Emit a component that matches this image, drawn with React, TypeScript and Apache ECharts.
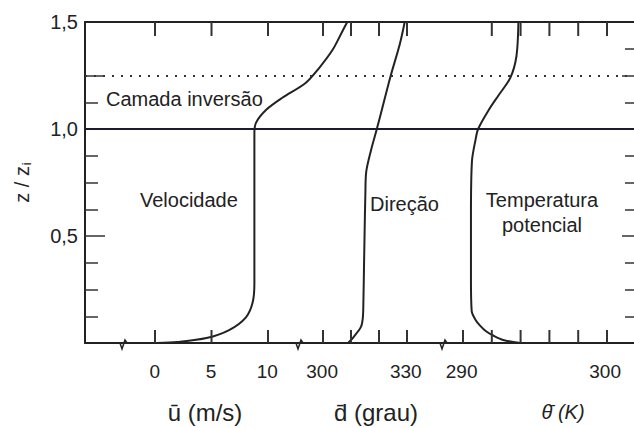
import React, { useEffect, useRef } from "react";
import * as echarts from "echarts";

// ---- data ----
const velU = [0.2, 2.0, 4.6, 6.6, 8.1, 8.7, 8.85, 8.85, 8.85, 9.0, 9.9, 11.3, 13.4, 14.6, 15.8, 16.6, 17.1];
const velZ = [0, 0.005, 0.023, 0.06, 0.12, 0.19, 0.28, 0.6, 0.98, 1.03, 1.09, 1.145, 1.215, 1.285, 1.37, 1.45, 1.5];

const dirD = [309.3, 311.4, 313.9, 314.6, 314.8, 315.0, 315.2, 315.5, 315.8, 317.5, 319.6, 322.0, 324.6, 327.9, 329.6];
const dirZ = [0, 0.03, 0.075, 0.12, 0.2, 0.35, 0.5, 0.7, 0.8, 0.9, 1.0, 1.12, 1.25, 1.4, 1.5];

const tempT = [294.1, 292.9, 292.2, 291.7, 291.3, 290.95, 290.7, 290.65, 290.65, 290.72, 290.97, 291.15, 291.9, 292.6, 293.4, 293.82, 293.96];
const tempZ = [0, 0.014, 0.035, 0.055, 0.08, 0.11, 0.15, 0.3, 0.6, 0.85, 0.95, 1.0, 1.09, 1.16, 1.24, 1.34, 1.5];

const velTicks = [0, 5, 10];
const velLabels = [0, 5, 10];
const dirTicks = [300, 310, 320, 330];
const dirLabels = [300, 330];
const tempTicks = [290, 292, 294, 296, 298, 300];
const tempTopTicks = [292, 294, 296, 298, 300];
const tempLabels = [290, 300];

const zMin = 0;
const zMax = 1.5;
const zLabels = [0.5, 1.0, 1.5];
const zTicksLeft = [0.125, 0.25, 0.375, 0.625, 0.75, 0.875, 1.125];
const zTicksLeftLong = [0.5, 1.25];
const zTicksRight = [0.125, 0.25, 0.375, 0.625, 0.75, 0.875, 1.125, 1.375];
const zTicksRightLong = [0.5, 1.25];

const inversionTop = 1.25;
const inversionBase = 1.0;

// ---- layout ----
const W = 634;
const H = 428;
const gL = 85;
const gR = 636;
const gT = 22;
const gB = 343;

type Scale = { v0: number; px0: number; ppu: number };
const velScale: Scale = { v0: 0, px0: 155, ppu: 11.3 };
const dirScale: Scale = { v0: 300, px0: 323, ppu: 2.8 };
const tempScale: Scale = { v0: 290, px0: 463, ppu: 14.4 };

function range(s: Scale) {
  return { min: s.v0 - (s.px0 - gL) / s.ppu, max: s.v0 + (gR - s.px0) / s.ppu };
}
function px(s: Scale, v: number) {
  return s.px0 + (v - s.v0) * s.ppu;
}
const velRange = range(velScale);
const dirRange = range(dirScale);
const tempRange = range(tempScale);

const INK = "#222";
const SANS = "'Liberation Sans', Arial, Helvetica, sans-serif";

const breaks = [122, 298, 442];

export default function App() {
  const ref = useRef<HTMLDivElement>(null);

  useEffect(() => {
    document.body.style.margin = "0";
    const chart = echarts.init(ref.current!, undefined, { renderer: "svg" });

    const tickStyle = { color: "#333", width: 1.5 };
    const xBase = (r: { min: number; max: number }, pos: string) => ({
      type: "value",
      gridIndex: 0,
      position: pos,
      offset: 0,
      min: r.min,
      max: r.max,
      splitLine: { show: false },
      axisLine: { show: false, onZero: false },
      axisTick: { show: false },
      axisLabel: { show: false },
    });

    const labelStyle = {
      show: true,
      margin: 19,
      fontSize: 19,
      fontFamily: SANS,
      color: INK,
    };

    const xAxes = [
      {
        ...xBase(velRange, "bottom"),
        axisLine: { show: true, onZero: false, lineStyle: { color: INK, width: 2 } },
        axisLabel: { ...labelStyle, customValues: velLabels },
      },
      {
        ...xBase(dirRange, "bottom"),
        axisLabel: { ...labelStyle, customValues: dirLabels },
      },
      {
        ...xBase(tempRange, "bottom"),
        axisLabel: { ...labelStyle, customValues: tempLabels },
      },
      {
        ...xBase(velRange, "top"),
        axisLine: { show: true, onZero: false, lineStyle: { color: INK, width: 2 } },
      },
    ];

    const yBase = (pos: string) => ({
      type: "value",
      gridIndex: 0,
      position: pos,
      offset: 0,
      min: zMin,
      max: zMax,
      splitLine: { show: false },
      axisLine: { show: false, onZero: false },
      axisLabel: { show: false },
    });

    const yAxes = [
      {
        ...yBase("left"),
        axisLine: { show: true, onZero: false, lineStyle: { color: INK, width: 2 } },
        axisTick: { show: true, inside: true, length: 13, lineStyle: tickStyle, customValues: zTicksLeft },
        axisLabel: {
          show: true,
          margin: 7,
          fontSize: 20,
          fontFamily: SANS,
          color: INK,
          customValues: zLabels,
          formatter: (v: number) => v.toFixed(1).replace(".", ","),
        },
        name: "z / z{s|i}",
        nameLocation: "middle",
        nameRotate: 90,
        nameGap: 52,
        nameTextStyle: {
          fontSize: 20,
          fontFamily: SANS,
          color: INK,
          rich: {
            s: { fontSize: 13, fontFamily: SANS, color: INK, padding: [9, 0, 0, 1] },
          },
        },
      },
      {
        ...yBase("left"),
        axisTick: { show: true, inside: true, length: 20, lineStyle: tickStyle, customValues: zTicksLeftLong },
      },
      {
        ...yBase("right"),
        axisTick: { show: true, inside: true, length: 9, lineStyle: tickStyle, customValues: zTicksRight },
      },
      {
        ...yBase("right"),
        axisTick: { show: true, inside: true, length: 12, lineStyle: tickStyle, customValues: zTicksRightLong },
      },
    ];

    const curve = (xs: number[], zs: number[], xi: number, extra: any = null) => ({
      type: "line",
      xAxisIndex: xi,
      yAxisIndex: 0,
      data: xs.map((x, i) => [x, zs[i]]),
      symbol: "none",
      smooth: 0.3,
      lineStyle: { color: INK, width: 2 },
      z: 3,
      ...(extra ? { markLine: extra } : {}),
    });

    const refLines = {
      silent: true,
      symbol: "none",
      label: { show: false },
      data: [
        { yAxis: inversionBase, lineStyle: { type: "solid", width: 2, color: "#1c1c30" } },
        { yAxis: inversionTop, lineStyle: { type: [2, 7], width: 2, color: "#333" } },
      ],
    };

    const txt = (text: string, x: number, y: number, size: number, align = "left", extra: any = {}) => ({
      type: "text",
      x,
      y,
      style: {
        text,
        fontSize: size,
        fontFamily: SANS,
        fill: INK,
        align,
        verticalAlign: "middle",
        ...extra,
      },
    });

    const breakMarks = breaks.map((bx) => ({
      type: "polyline",
      shape: {
        points: [
          [bx - 5, gB],
          [bx - 2, gB],
          [bx, gB + 6],
          [bx + 3, gB - 3],
          [bx + 5, gB],
          [bx + 8, gB],
        ],
      },
      style: { stroke: INK, lineWidth: 1.5, fill: "none" },
    }));

    // x-axis tick marks as thin filled rects, same linear mapping as the axes' min/max
    const tickSets: [Scale, number[], number, number][] = [
      [velScale, velTicks, gB - 13, 13],
      [dirScale, dirTicks, gB - 13, 13],
      [tempScale, tempTicks, gB - 13, 13],
      [velScale, velTicks, gT, 14],
      [dirScale, dirTicks, gT, 14],
      [tempScale, tempTopTicks, gT, 14],
    ];
    const tickRects: any[] = [];
    tickSets.forEach(([s, vals, yTop, len]) => {
      vals.forEach((v) => {
        const x = px(s, v);
        tickRects.push({
          type: "rect",
          shape: { x: x - 1, y: yTop, width: 2, height: len },
          style: { fill: "#333" },
          z: 100,
        });
      });
    });

    chart.setOption({
      animation: false,
      grid: { left: gL, right: W - gR, top: gT, bottom: H - gB, containLabel: false },
      xAxis: xAxes,
      yAxis: yAxes,
      series: [curve(velU, velZ, 0, refLines), curve(dirD, dirZ, 1), curve(tempT, tempZ, 2)],
      graphic: [
        txt("Camada inversão", 106, 99, 20),
        txt("Velocidade", 140, 200, 20),
        txt("Direção", 370, 204, 20),
        txt("Temperatura\npotencial", 542, 212, 20, "center", { lineHeight: 25 }),
        txt("ū (m/s)", 205, 412, 24, "center"),
        txt("d\u0304 (grau)", 376, 412, 24, "center"),
        txt("\u03B8\u0304 (K)", 563, 412, 20, "center", { fontStyle: "italic" }),
        ...breakMarks,
        ...tickRects,
      ],
    });

    return () => chart.dispose();
  }, []);

  return (
    <div
      ref={ref}
      style={{ position: "absolute", left: 0, top: 0, width: W, height: H, background: "#fff" }}
    />
  );
}
